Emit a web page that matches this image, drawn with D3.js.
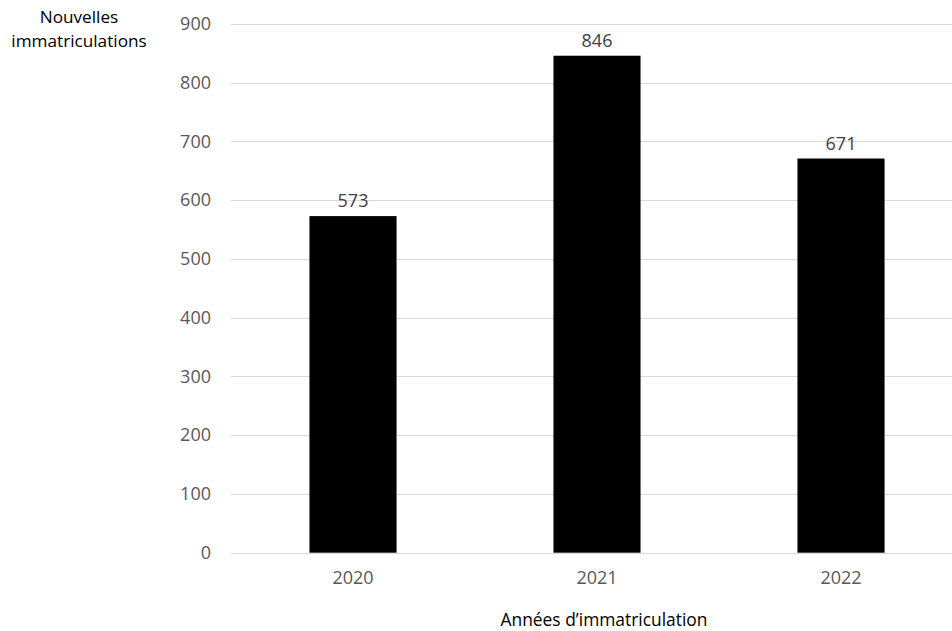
<!DOCTYPE html>
<html>
<head>
<meta charset="utf-8">
<script src="https://cdn.jsdelivr.net/npm/d3@7"></script>
<style>
  html, body { margin: 0; padding: 0; background: #fff; }
  svg { display: block; font-family: "Open Sans", "Noto Sans", sans-serif; }
</style>
</head>
<body>
<svg id="chart" width="952" height="631"></svg>
<script>
// Nouvelles immatriculations par année
const years = ["2020", "2021", "2022"];
const registrations = [573, 846, 671];
const yTicks = [0, 100, 200, 300, 400, 500, 600, 700, 800, 900];

const svg = d3.select("#chart");
const plot = { left: 231, right: 963, top: 24, bottom: 552.7 };
const numFont = "18px";

const x = d3.scaleBand()
  .domain(years)
  .range([plot.left, plot.right])
  .paddingInner(0.643)
  .paddingOuter(0.3215);

const y = d3.scaleLinear()
  .domain([0, 900])
  .range([plot.bottom, plot.top]);

// gridlines
svg.append("g")
  .selectAll("line")
  .data(yTicks)
  .join("line")
  .attr("x1", plot.left)
  .attr("x2", plot.right)
  .attr("y1", d => Math.round(y(d)) + 0.5)
  .attr("y2", d => Math.round(y(d)) + 0.5)
  .attr("stroke", "#d9d9d9")
  .attr("stroke-width", 1);

// y-axis tick labels
const yAxis = d3.axisLeft(y).tickValues(yTicks).tickSize(0).tickPadding(0);
const gy = svg.append("g")
  .attr("transform", `translate(211,0)`)
  .call(yAxis);
gy.select(".domain").remove();
gy.selectAll("text")
  .attr("fill", "#595959")
  .attr("font-size", numFont)
  .attr("font-family", "'Open Sans', sans-serif");

// bars
svg.append("g")
  .selectAll("rect")
  .data(years)
  .join("rect")
  .attr("x", d => x(d))
  .attr("width", x.bandwidth())
  .attr("y", (d, i) => y(registrations[i]))
  .attr("height", (d, i) => y(0) - y(registrations[i]))
  .attr("fill", "#000");

// value labels
svg.append("g")
  .selectAll("text")
  .data(years)
  .join("text")
  .attr("x", d => x(d) + x.bandwidth() / 2)
  .attr("y", (d, i) => y(registrations[i]) - 9)
  .attr("text-anchor", "middle")
  .attr("fill", "#404040")
  .attr("font-size", numFont)
  .text((d, i) => registrations[i]);

// x-axis category labels
const xAxis = d3.axisBottom(x).tickSize(0).tickPadding(0);
const gx = svg.append("g")
  .attr("transform", `translate(0,${plot.bottom + 19})`)
  .call(xAxis);
gx.select(".domain").remove();
gx.selectAll("text")
  .attr("fill", "#595959")
  .attr("font-size", numFont)
  .attr("font-family", "'Open Sans', sans-serif");

// axis titles
svg.append("text")
  .attr("x", 604)
  .attr("y", 626)
  .attr("text-anchor", "middle")
  .attr("fill", "#000")
  .attr("font-size", "17.4px")
  .text("Années d’immatriculation");

const yTitle = svg.append("text")
  .attr("text-anchor", "middle")
  .attr("fill", "#000")
  .attr("font-size", "17.2px");
yTitle.append("tspan").attr("x", 79).attr("y", 23).text("Nouvelles");
yTitle.append("tspan").attr("x", 79).attr("y", 47).text("immatriculations");
</script>
</body>
</html>
